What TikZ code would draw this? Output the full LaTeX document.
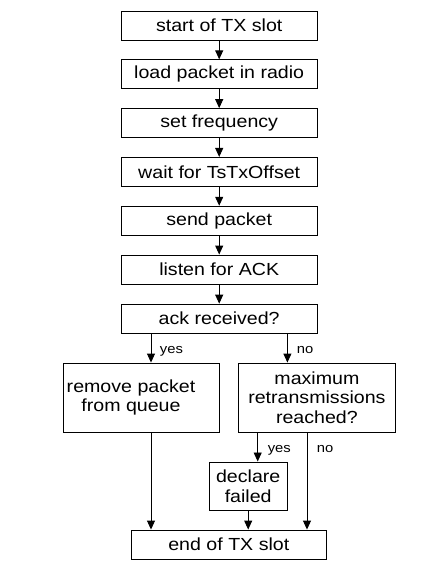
\documentclass[tikz,border=0pt]{standalone}
\usepackage{fontspec}
\setmainfont{Liberation Sans}[FakeStretch=1.12]
\usetikzlibrary{arrows.meta}

\tikzset{every picture/.style={line width=0.9pt}}
\tikzset{
  stepbox/.style={draw, rectangle, inner sep=0pt, align=center,
    minimum width=195.5pt, minimum height=29pt,
    font=\fontsize{17.5}{19.5}\selectfont},
  txt/.style={inner sep=0pt, align=center, font=\fontsize{17.5}{19.5}\selectfont},
  lbl/.style={anchor=base west, inner sep=0pt, font=\fontsize{13.2}{15}\selectfont},
  arr/.style={-{Triangle[length=9pt,width=8pt]}}
}

\begin{document}
\begin{tikzpicture}[x=1pt,y=1pt,yscale=-1,xscale=1]
    \useasboundingbox (0,0) rectangle (440,573);

    % main column
    \node[stepbox] (start) at (219.2,25.5) {start of TX slot};
    \node[stepbox] (load) at (219.2,74.3) {load packet in radio};
    \node[stepbox] (freq) at (219.2,123.1) {set frequency};
    \node[stepbox] (wait) at (219.2,171.9) {wait for TsTxOffset};
    \node[stepbox] (send) at (219.2,220.7) {send packet};
    \node[stepbox] (listen) at (219.2,269.5) {listen for ACK};
    \node[stepbox] (ack) at (219.2,318.6) {ack received?};

    % branches
    \node[stepbox, minimum width=156pt, minimum height=69pt] (rmq) at (141,397.5) {};
    \node[txt] (rmqtxt) at (131,397.5) {remove packet\\from queue};
    \node[stepbox, minimum width=157.7pt, minimum height=69pt] (maxre) at (316.9,397.5) {maximum\\retransmissions\\reached?};
    \node[stepbox, minimum width=78.3pt, minimum height=48.7pt] (decl) at (248.2,486.3) {declare\\failed};
    \node[stepbox] (stop) at (228.8,544.5) {end of TX slot};

    % branch points
    \coordinate (ackyes) at ([xshift=-68.2pt]ack.south);
    \coordinate (ackno) at ([xshift=68.2pt]ack.south);
    \coordinate (rmqout) at ([xshift=10pt]rmq.south);
    \coordinate (maxyes) at ([xshift=-59.2pt]maxre.south);
    \coordinate (maxno) at ([xshift=-9.9pt]maxre.south);

    % Straight Lines
    \draw[arr] (start) -- (load);
    \draw[arr] (load) -- (freq);
    \draw[arr] (freq) -- (wait);
    \draw[arr] (wait) -- (send);
    \draw[arr] (send) -- (listen);
    \draw[arr] (listen) -- (ack);
    \draw[arr] (ackyes) -- (ackyes |- rmq.north);
    \draw[arr] (ackno) -- (ackno |- maxre.north);
    \draw[arr] (rmqout) -- (rmqout |- stop.north);
    \draw[arr] (maxyes) -- (maxyes |- decl.north);
    \draw[arr] (maxno) -- (maxno |- stop.north);
    \draw[arr] (decl) -- (decl.south |- stop.north);

    % Text Node
    \node[lbl] (yesa) at (159.5,353.3) {yes};
    \node[lbl] (noa) at (296.5,353.3) {no};
    \node[lbl] (yesb) at (267.3,452) {yes};
    \node[lbl] (nob) at (316.5,452) {no};

\end{tikzpicture}
\end{document}
